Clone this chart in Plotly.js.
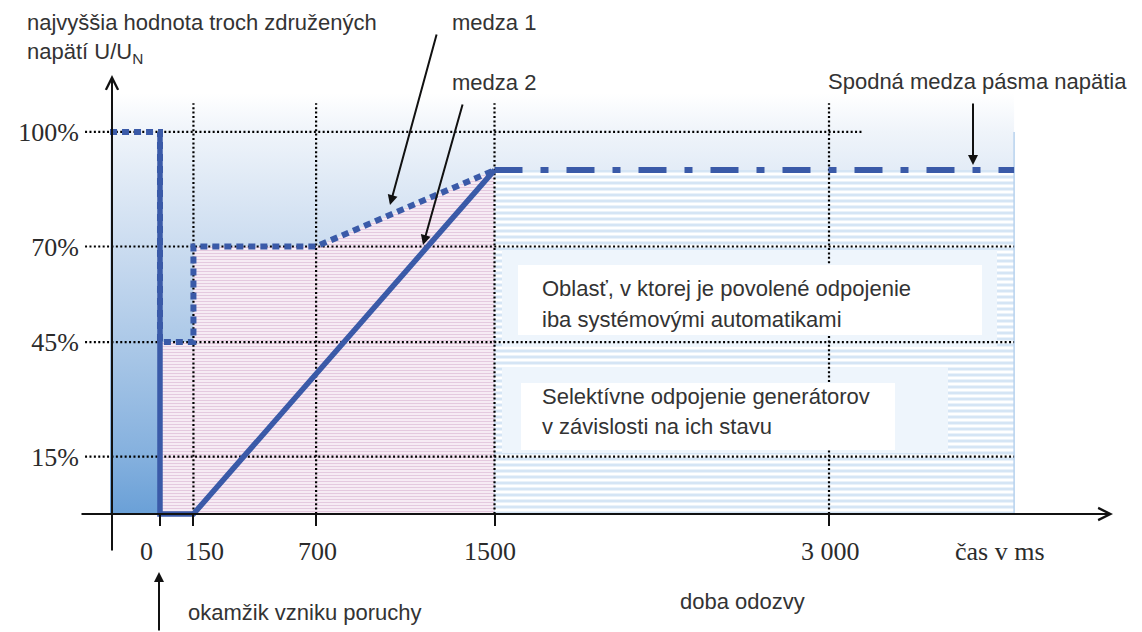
<!DOCTYPE html>
<html><head><meta charset="utf-8">
<script src="https://cdn.plot.ly/plotly-3.0.1.min.js"></script>
<style>html,body{margin:0;padding:0;background:#fff}#chart{width:1142px;height:632px}</style>
</head><body><div id="chart"></div>
<script>
// ---------------- data (time in ms, voltage in % of U/Un) ----------------
const xTickVals = [0, 150, 700, 1500, 3000];
const xTickText = ['0', '150', '700', '1500', '3 000'];
const yTickVals = [15, 45, 70, 100];
const yTickText = ['15%', '45%', '70%', '100%'];

const medza1X = [-224, 0, 0, 150, 150, 700, 1500];
const medza1Y = [100, 100, 45, 45, 70, 70, 90];
const medza2X = [0, 0, 150, 1500];
const medza2Y = [100, 0, 0, 90];
const spodnaX = [1500, 3830];
const spodnaY = [90, 90];

const pinkX = [0, 0, 150, 150, 700, 1500, 1500];
const pinkY = [0, 45, 45, 70, 70, 90, 0];
const stripeX = [1500, 1500, 3830, 3830];
const stripeY = [0, 90, 90, 0];
const bgX = [-224, 3830, 3830, -224];
const bgY = [0, 0, 110, 110];
const edgeX = [3830, 3830];
const edgeY = [0, 100];

const gridYEnds = [3830, 3830, 3830, 3150];   // right end of each horizontal grid line
const gridXTop = 107.5;
const gridXStart = -336;

// ---------------- layout geometry ----------------
const W = 1142, H = 632;
const L = 80, R = 1112, T = 78, B = 550;
const X_RANGE = [-358.7, 4269];
const Y_RANGE = [-9.42, 114.1];
const px = p => (p - L) / (R - L);
const py = p => (B - p) / (B - T);
const dx = p => X_RANGE[0] + px(p) * (X_RANGE[1] - X_RANGE[0]);
const dy = p => Y_RANGE[0] + py(p) * (Y_RANGE[1] - Y_RANGE[0]);

const BLUE = '#3a5aa8';
const SANS = 'Liberation Sans, Arial, sans-serif';
const SERIF = 'Liberation Serif, Times New Roman, serif';
const TXT = '#333333';
const TICKCOL = '#2b2b2b';
const xLabelShift = [-13, 11, 1, -5, 1];

// grid lines as traces (drawn above fills, below curves)
const hgX = [], hgY = [];
yTickVals.forEach((v, i) => { hgX.push(gridXStart, gridYEnds[i], null); hgY.push(v, v, null); });
const vgX = [], vgY = [];
xTickVals.slice(1).forEach(v => { vgX.push(v, v, null); vgY.push(0, gridXTop, null); });

const rectTrace = (x0, x1, y0, y1, color) => ({
  x: [dx(x0), dx(x1), dx(x1), dx(x0)], y: [dy(y0), dy(y0), dy(y1), dy(y1)],
  mode: 'none', fill: 'toself', fillcolor: color, hoverinfo: 'skip', type: 'scatter'
});

const traces = [
  { x: bgX, y: bgY, type: 'scatter', mode: 'none', fill: 'toself', hoverinfo: 'skip',
    fillgradient: { type: 'vertical', colorscale: [
      [0, '#6aa0d7'], [0.136, '#84b0de'], [0.366, '#a6c5e6'], [0.636, '#cbdcf0'], [0.909, '#eff4fa'], [1, '#ffffff']] } },
  { x: pinkX, y: pinkY, type: 'scatter', mode: 'none', fill: 'toself', hoverinfo: 'skip',
    fillcolor: '#f5e9f3',
    fillpattern: { shape: '-', bgcolor: '#f6ebf4', fgcolor: '#e4c9df', size: 3, solidity: 0.35 } },
  { x: stripeX, y: stripeY, type: 'scatter', mode: 'none', fill: 'toself', hoverinfo: 'skip',
    fillcolor: '#ffffff',
    fillpattern: { shape: '-', bgcolor: '#ffffff', fgcolor: '#d5e5f5', size: 6, solidity: 0.5 } },
  rectTrace(502, 997, 250, 347, '#eef5fc'),
  rectTrace(502, 948, 367, 453, '#eef5fc'),
  { x: edgeX, y: edgeY, type: 'scatter', mode: 'lines', hoverinfo: 'skip',
    line: { color: '#b7d2ee', width: 1.5 } },
  { x: hgX, y: hgY, type: 'scatter', mode: 'lines', hoverinfo: 'skip',
    line: { color: '#000', width: 2.2, dash: '2px,2.4px' } },
  { x: vgX, y: vgY, type: 'scatter', mode: 'lines', hoverinfo: 'skip',
    line: { color: '#000', width: 2.2, dash: '2px,2.4px' } },
  { x: medza1X, y: medza1Y, type: 'scatter', mode: 'lines', name: 'medza 1',
    line: { color: BLUE, width: 6, dash: '7px,5px' } },
  { x: medza2X, y: medza2Y, type: 'scatter', mode: 'lines', name: 'medza 2',
    line: { color: BLUE, width: 5.5 } },
  { x: spodnaX, y: spodnaY, type: 'scatter', mode: 'lines', name: 'Spodná medza pásma napätia',
    line: { color: BLUE, width: 6, dash: '28px,18px,8px,18px' } }
];

const txt = (text, x, y, opts = {}) => Object.assign({
  text, x: px(x), y: py(y), xref: 'paper', yref: 'paper', xanchor: 'left', yanchor: 'middle',
  showarrow: false, font: { family: SANS, size: 22, color: TXT }, align: 'left'
}, opts);
const arrow = (hx, hy, tx, ty, opts = {}) => Object.assign({
  text: '', x: px(hx), y: py(hy), xref: 'paper', yref: 'paper', ax: tx - hx, ay: ty - hy,
  axref: 'pixel', ayref: 'pixel', showarrow: true, arrowhead: 2, arrowsize: 1, arrowwidth: 2,
  arrowcolor: '#111', standoff: 0
}, opts);

const annotations = [
  // axes
  arrow(112, 75, 112, 552, { arrowhead: 5, arrowsize: 1.2, arrowwidth: 2 }),
  arrow(1113, 514, 80, 514, { arrowhead: 5, arrowsize: 1.2, arrowwidth: 2 }),
  // pointers
  arrow(390, 205, 437, 33),
  arrow(423, 245, 463, 103),
  arrow(973, 165, 973, 102),
  arrow(159, 572, 159, 640),
  // texts
  txt('najvyššia hodnota troch združených', 25, 23),
  txt('napätí U/U<sub>N</sub>', 25, 53),
  txt('medza 1', 450, 22),
  txt('medza 2', 450, 83),
  txt('Spodná medza pásma napätia', 826, 82),
  txt('okamžik vzniku poruchy', 186, 612),
  txt('doba odozvy', 678, 601),
  txt('čas v ms', 953, 551, { font: { family: SERIF, size: 26, color: TICKCOL } }),
  txt('Oblasť, v ktorej je povolené odpojenie', 540, 288),
  txt('iba systémovými automatikami', 540, 319),
  txt('Selektívne odpojenie generátorov', 540, 396),
  txt('v závislosti na ich stavu', 540, 426)
];
// x tick labels, placed at the tick values on the data axis
xTickVals.forEach((v, i) => annotations.push({
  text: xTickText[i], x: v, xref: 'x', y: py(551), yref: 'paper', xanchor: 'center', yanchor: 'middle',
  xshift: xLabelShift[i], showarrow: false, font: { family: SERIF, size: 26, color: TICKCOL }
}));

const shapes = [
  { type: 'rect', xref: 'paper', yref: 'paper', x0: px(518), x1: px(982), y0: py(335), y1: py(265),
    fillcolor: '#ffffff', line: { width: 0 }, layer: 'above' },
  { type: 'rect', xref: 'paper', yref: 'paper', x0: px(521), x1: px(895), y0: py(450), y1: py(383),
    fillcolor: '#ffffff', line: { width: 0 }, layer: 'above' }
];

const layout = {
  width: W, height: H,
  margin: { l: L, r: W - R, t: T, b: H - B, pad: 0 },
  paper_bgcolor: '#ffffff', plot_bgcolor: '#ffffff',
  showlegend: false, hovermode: false,
  xaxis: {
    range: X_RANGE, anchor: 'free', position: (0 - Y_RANGE[0]) / (Y_RANGE[1] - Y_RANGE[0]),
    showgrid: false, zeroline: false, showline: false,
    tickmode: 'array', tickvals: xTickVals, ticktext: xTickText, showticklabels: false,
    ticks: 'outside', ticklen: 11, tickwidth: 2, tickcolor: '#111'
  },
  yaxis: {
    range: Y_RANGE, showgrid: false, zeroline: false, showline: false,
    tickmode: 'array', tickvals: yTickVals, ticktext: yTickText, ticks: '',
    tickfont: { family: SERIF, size: 26, color: TICKCOL }
  },
  annotations, shapes
};

Plotly.newPlot('chart', traces, layout, { staticPlot: true, displayModeBar: false });
</script>
</body></html>
